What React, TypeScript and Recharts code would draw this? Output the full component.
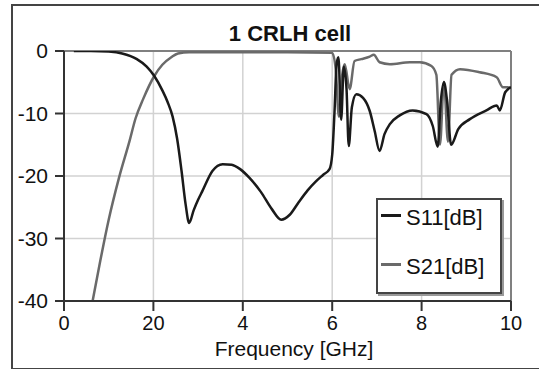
import { LineChart, Line, XAxis, YAxis, CartesianGrid, ReferenceLine } from "recharts"

const title = "1 CRLH cell"
const xTitle = "Frequency [GHz]"

const freqTicks = [0, 2, 4, 6, 8, 10]
const freqTickLabels = ["0", "20", "4", "6", "8", "10"]
const dbTicks = [-40, -30, -20, -10, 0]

const s11Name = "S11[dB]"
const s11Freq = [0.22, 0.6, 1.0, 1.3, 1.63, 1.85, 2.02, 2.2, 2.32, 2.43, 2.53, 2.63, 2.72, 2.8, 2.9, 3.0, 3.09, 3.32, 3.55, 3.75, 3.94, 4.15, 4.4, 4.65, 4.86, 5.05, 5.25, 5.45, 5.63, 5.8, 5.94, 6.0, 6.05, 6.1, 6.14, 6.2, 6.26, 6.32, 6.37, 6.44, 6.54, 6.69, 6.84, 6.95, 7.06, 7.17, 7.29, 7.51, 7.8, 8.11, 8.25, 8.36, 8.43, 8.5, 8.57, 8.66, 8.82, 9.08, 9.45, 9.68, 9.75, 9.87, 10]
const s11Db = [0, 0, -0.1, -0.4, -1.3, -2.5, -4.0, -6.3, -8.2, -10.5, -14, -19.2, -24.5, -27.5, -25.5, -23.8, -22.5, -19.2, -18.1, -18.2, -18.9, -20.3, -22.5, -25.3, -27.0, -26.2, -24.2, -22.3, -20.9, -19.8, -18.9, -16.6, -10, -2, -1, -11, -2.5, -6, -15.2, -9, -6.9, -7.5, -9.6, -12.8, -16, -13.3, -11.7, -10.3, -9.5, -10.1, -12, -15.3, -8, -5, -8, -15, -12.5, -10.9, -9.5, -8.7, -9.5, -6.6, -5.8]

const s21Name = "S21[dB]"
const s21Freq = [0.64, 0.8, 1.0, 1.23, 1.47, 1.6, 1.77, 2.02, 2.2, 2.4, 2.55, 2.8, 3.5, 5.0, 6.0, 6.08, 6.15, 6.22, 6.28, 6.39, 6.5, 6.65, 6.84, 6.93, 7.06, 7.29, 7.74, 7.96, 8.22, 8.33, 8.41, 8.5, 8.59, 8.67, 8.86, 9.3, 9.68, 9.82, 9.93, 10]
const s21Db = [-40, -34, -27, -20.3, -14.3, -10.8, -7.7, -4.0, -2.2, -1.0, -0.4, -0.2, -0.2, -0.2, -0.3, -3, -10.5, -4, -2.1, -6.1, -1.6, -1.3, -0.9, -0.6, -1.8, -2.1, -1.8, -1.8, -2.4, -3.8, -15, -4.9, -14.5, -3.8, -2.9, -3.4, -4.2, -5.8, -5.8, -6]

const s11Data = s11Freq.map((f, i) => ({ f, db: s11Db[i] }))
const s21Data = s21Freq.map((f, i) => ({ f, db: s21Db[i] }))

const font = '"Liberation Sans", Arial, sans-serif'

// legend box drawn over the plot, like the original
const LegendBox = () => (
  <div
    style={{
      position: "absolute",
      left: 376,
      top: 198,
      width: 126,
      height: 96,
      border: "2px solid #444",
      boxShadow: "2px 2px 0 #999",
      background: "#fff",
      fontFamily: font,
      fontSize: 22,
      color: "#111",
      boxSizing: "border-box",
    }}
  >
    {[
      { name: s11Name, color: "#1a1a1a", top: 5 },
      { name: s21Name, color: "#6a6a6a", top: 54 },
    ].map((it) => (
      <div key={it.name} style={{ position: "absolute", left: 3, top: it.top, display: "flex", alignItems: "center", lineHeight: "26px", whiteSpace: "nowrap" }}>
        <span style={{ display: "inline-block", width: 20, height: 3, background: it.color, marginRight: 5, marginTop: -6 }} />
        <span>{it.name}</span>
      </div>
    ))}
  </div>
)

const App = () => {
  return (
    <div style={{ position: "absolute", left: 0, top: 0, width: 539, height: 369, background: "#fff", overflow: "hidden" }}>
      <div style={{ position: "absolute", left: 11, top: 4, width: 540, height: 362, border: "2px solid #444" }} />
      <div
        style={{
          position: "absolute",
          left: 0,
          width: 580,
          top: 23,
          textAlign: "center",
          fontFamily: font,
          fontWeight: "bold",
          fontSize: 22,
          lineHeight: "22px",
          color: "#111",
        }}
      >
        {title}
      </div>
      <div
        style={{
          position: "absolute",
          left: 0,
          width: 588,
          top: 338,
          textAlign: "center",
          fontFamily: font,
          fontSize: 21,
          lineHeight: "21px",
          color: "#111",
        }}
      >
        {xTitle}
      </div>
      <LineChart width={539} height={369} margin={{ top: 51, right: 28, left: 14, bottom: 28 }} style={{ position: "absolute", left: 0, top: 0 }}>
        <CartesianGrid stroke="#d2d2d2" strokeWidth={1.5} />
        <XAxis
          type="number"
          dataKey="f"
          domain={[0, 10]}
          ticks={freqTicks}
          tickFormatter={(v: number) => freqTickLabels[freqTicks.indexOf(v)]}
          height={40}
          tickSize={10}
          tickMargin={5}
          stroke="#333"
          strokeWidth={2}
          tick={{ fill: "#111", fontSize: 20, fontFamily: font }}
          allowDataOverflow
        />
        <YAxis
          type="number"
          domain={[-40, 0]}
          ticks={dbTicks}
          width={50}
          tickSize={9}
          tickMargin={7}
          stroke="#333"
          strokeWidth={2}
          tick={{ fill: "#111", fontSize: 21, fontFamily: font }}
          allowDataOverflow
        />
        <ReferenceLine y={0} stroke="#808080" strokeWidth={2} />
        <ReferenceLine x={10} stroke="#808080" strokeWidth={2} />
        <Line data={s21Data} dataKey="db" name={s21Name} type="monotone" stroke="#6a6a6a" strokeWidth={2.5} dot={false} isAnimationActive={false} />
        <Line data={s11Data} dataKey="db" name={s11Name} type="monotone" stroke="#1a1a1a" strokeWidth={2.5} dot={false} isAnimationActive={false} />
      </LineChart>
      <LegendBox />
    </div>
  )
}

export default App
